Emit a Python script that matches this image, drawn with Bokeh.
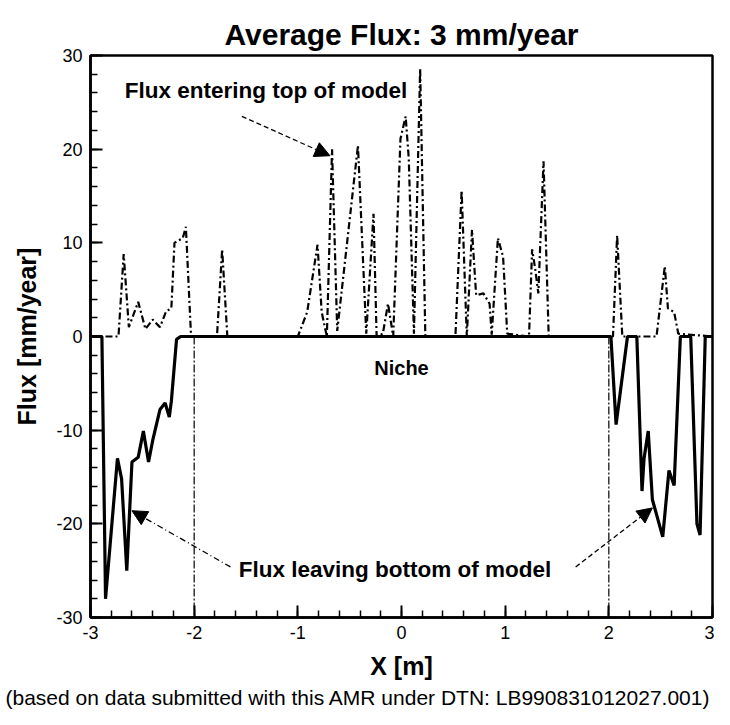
from bokeh.plotting import figure
from bokeh.models import Label, Arrow, NormalHead, Title, SingleIntervalTicker
from bokeh.embed import file_html
from bokeh.resources import INLINE

# ---------------- data ----------------
x_top = [-3.00, -2.73, -2.68, -2.63, -2.54, -2.47, -2.40, -2.33, -2.27, -2.22,
         -2.19, -2.11, -2.08, -2.03, -1.78, -1.73, -1.68, -1.00, -0.91, -0.81,
         -0.77, -0.72, -0.67, -0.62, -0.42, -0.34, -0.27, -0.24, -0.18, -0.13,
         -0.08, -0.01, 0.04, 0.07, 0.12, 0.18, 0.23, 0.52, 0.58, 0.63,
         0.68, 0.72, 0.79, 0.85, 0.87, 0.93, 0.98, 1.02, 1.23, 1.26,
         1.29, 1.32, 1.37, 1.42, 2.04, 2.08, 2.13, 2.46, 2.54, 2.57,
         2.63, 2.67, 3.00]
flux_top = [0.0, 0.0, 8.8, 1.0, 3.7, 0.8, 1.8, 1.0, 2.7, 3.0,
            10.0, 10.5, 11.7, 0.0, 0.0, 9.3, 0.0, 0.0, 2.6, 9.8,
            2.6, 0.0, 20.0, 0.6, 20.4, 0.3, 13.1, 0.0, 0.3, 3.5,
            0.0, 21.1, 23.5, 19.0, 0.3, 28.6, 0.0, 0.0, 15.6, 0.0,
            11.4, 4.4, 4.6, 3.5, 0.2, 10.5, 8.5, 0.3, 0.0, 9.3,
            7.2, 4.6, 18.7, 0.0, 0.0, 10.8, 0.0, 0.0, 7.5, 3.0,
            2.6, 0.3, 0.0]

x_bottom = [-3.00, -2.89, -2.855, -2.74, -2.70, -2.65, -2.60, -2.54, -2.49, -2.44,
            -2.40, -2.33, -2.28, -2.24, -2.22, -2.17, -2.13, 2.02, 2.07, 2.18,
            2.27, 2.32, 2.34, 2.38, 2.42, 2.52, 2.58, 2.63, 2.69, 2.79,
            2.85, 2.88, 2.93, 3.00]
flux_bottom = [0.0, 0.0, -28.0, -13.0, -15.2, -25.0, -13.4, -12.9, -10.1, -13.4,
               -11.1, -7.8, -7.1, -8.6, -6.9, -0.3, 0.0, 0.0, -9.4, 0.0,
               0.0, -16.5, -13.0, -10.1, -17.4, -21.4, -14.3, -15.9, 0.0, 0.0,
               -20.0, -21.2, 0.0, 0.0]

niche_edges = [-2.0, 2.0]
niche_y0 = [0.0, 0.0]
niche_y1 = [-30.0, -30.0]

x_ticks = [-3, -2, -1, 0, 1, 2, 3]
x_tick_labels = ["-3", "-2", "-1", "0", "1", "2", "3"]
y_ticks = [-30, -20, -10, 0, 10, 20, 30]
y_tick_labels = ["-30", "-20", "-10", "0", "10", "20", "30"]

title_text = "Average Flux: 3 mm/year"
x_label = "X [m]"
y_label = "Flux [mm/year]"
footnote = "(based on data submitted with this AMR under DTN: LB990831012027.001)"

# annotation texts and anchors (data units)
ann_top = ("Flux entering top of model", -2.67, 26.3)
ann_niche = ("Niche", 0.0, -3.4)
ann_bottom = ("Flux leaving bottom of model", -1.57, -24.9)
arrows = [  # (x_start, y_start, x_end, y_end, dash)
    (-1.54, 23.5, -0.69, 19.3, "5 3"),
    (-1.65, -24.6, -2.60, -18.6, "6 3 1 3"),
    (1.68, -24.6, 2.42, -18.3, "5 3"),
]

FONT = "Liberation Sans"

# ---------------- figure ----------------
p = figure(width=714, height=709, x_range=(-3, 3), y_range=(-30, 30),
           output_backend="svg", toolbar_location=None,
           min_border_left=90, min_border_right=2, min_border_top=55,
           min_border_bottom=87)
p.background_fill_color = "white"
p.border_fill_color = "white"
p.outline_line_color = "black"
p.outline_line_width = 2.5
p.xgrid.grid_line_color = None
p.ygrid.grid_line_color = None

p.title.text = title_text
p.title.align = "center"
p.title.text_font = FONT
p.title.text_font_size = "30px"
p.title.text_font_style = "bold"
p.title.text_color = "black"
p.title.standoff = 10

# axes
xa = p.xaxis[0]
ya = p.yaxis[0]
xa.ticker = SingleIntervalTicker(interval=1, num_minor_ticks=5)
ya.ticker = SingleIntervalTicker(interval=10, num_minor_ticks=5)
xa.major_label_overrides = dict(zip(x_ticks, x_tick_labels))
ya.major_label_overrides = dict(zip(y_ticks, y_tick_labels))
for ax in (xa, ya):
    ax.axis_line_color = "black"
    ax.axis_line_width = 2.5
    ax.major_tick_in = 12
    ax.major_tick_out = 0
    ax.minor_tick_in = 7
    ax.minor_tick_out = 0
    ax.major_tick_line_width = 2
    ax.minor_tick_line_width = 1.5
    ax.major_tick_line_color = "black"
    ax.minor_tick_line_color = "black"
    ax.major_label_text_font = FONT
    ax.major_label_text_font_size = "18px"
    ax.major_label_text_color = "black"
    ax.axis_label_text_font = FONT
    ax.axis_label_text_font_size = "25px"
    ax.axis_label_text_font_style = "bold"
    ax.axis_label_text_color = "black"
xa.axis_label = x_label
ya.axis_label = y_label
xa.major_label_standoff = 8
xa.axis_label_standoff = 10
ya.major_label_standoff = 8
ya.axis_label_standoff = 12

foot = Title(text=footnote, align="left", offset=-85, text_font=FONT,
             text_font_size="21px", text_font_style="normal",
             text_color="black", standoff=2)
p.add_layout(foot, "below")

# niche edges
p.segment(x0=niche_edges, y0=niche_y0, x1=niche_edges, y1=niche_y1,
          line_color="black", line_width=1.2, line_dash="8 2 2 2")

# series
p.line(x_top, flux_top, line_color="black", line_width=2.2, line_dash="7 3 2 3")
p.line(x_bottom, flux_bottom, line_color="black", line_width=3.2)

# annotations
for txt, xx, yy in (ann_top, ann_bottom):
    p.add_layout(Label(x=xx, y=yy, text=txt, text_font=FONT, text_font_size="22.5px",
                       text_font_style="bold", text_align="left",
                       text_baseline="middle", text_color="black"))
p.add_layout(Label(x=ann_niche[1], y=ann_niche[2], text=ann_niche[0], text_font=FONT,
                   text_font_size="20px", text_font_style="bold", text_align="center",
                   text_baseline="middle", text_color="black"))
for xs, ys, xe, ye, dash in arrows:
    p.add_layout(Arrow(x_start=xs, y_start=ys, x_end=xe, y_end=ye,
                       line_color="black", line_width=1.3, line_dash=dash,
                       end=NormalHead(size=15, fill_color="black", line_color="black")))

open("out.html", "w").write(file_html(p, INLINE))
